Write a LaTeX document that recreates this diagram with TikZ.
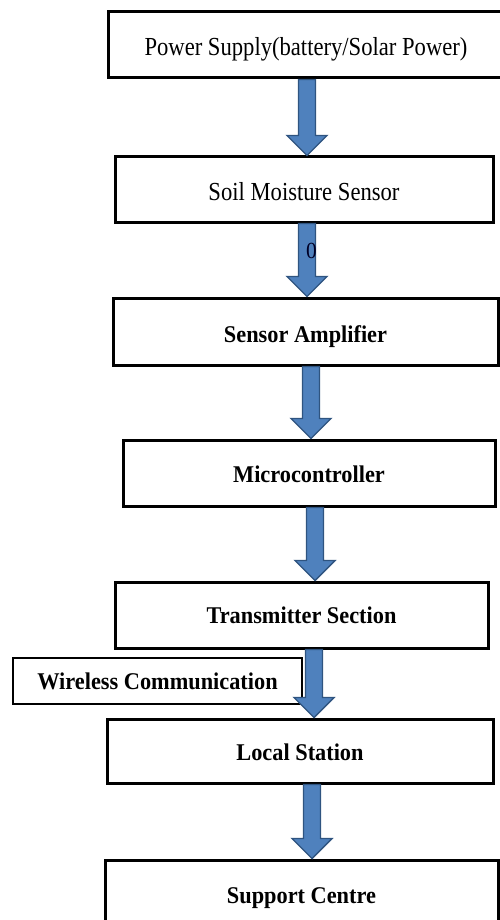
\documentclass[tikz,border=0pt]{standalone}
\usepackage{fontspec}
\setmainfont[FakeStretch=0.93]{Liberation Serif}
\newfontfamily\plainserif[FakeStretch=0.87]{Liberation Serif}
\usetikzlibrary{calc}
\definecolor{arrowfill}{HTML}{4F81BD}
\definecolor{arrowedge}{HTML}{2F5480}
\tikzset{
  stagebox/.style={draw=black, line width=3pt, fill=white, inner sep=0pt,
    text depth=5pt, text height=27pt,
    font=\fontsize{24}{28}\selectfont\bfseries},
  plainbox/.style={stagebox, font=\fontsize{26}{30}\plainserif},
  notebox/.style={draw=black, line width=1.3pt, fill=white, inner sep=0pt,
    font=\fontsize{24}{28}\selectfont\bfseries},
  flowarrow/.style={fill=arrowfill, draw=arrowedge, line width=1.4pt, line join=miter}
}
% block arrow at horizontal position #3 from the bottom of node #1 to the top of node #2
\newcommand\blockarrow[3]{%
  \path[flowarrow] let \p1=(#1.south), \p2=(#2.north) in
    (#3pt-8.5pt,\y1) -- (#3pt+8.5pt,\y1) -- (#3pt+8.5pt,\y2+20pt)
    -- (#3pt+20pt,\y2+20pt) -- (#3pt,\y2) -- (#3pt-20pt,\y2+20pt)
    -- (#3pt-8.5pt,\y2+20pt) -- cycle;}
\begin{document}
\begin{tikzpicture}[x=1pt, y=-1pt]
  \useasboundingbox (0,0) rectangle (500,920);
  \begin{scope}
    \clip (0,0) rectangle (500,920);
    \node[plainbox, minimum width=396pt, minimum height=66pt] (power) at (306,45)
      {Power Supply(battery/Solar Power)};
    \node[plainbox, minimum width=378pt, minimum height=65pt] (soil) at (304,189.5)
      {Soil Moisture Sensor};
    \node[stagebox, minimum width=385pt, minimum height=67pt] (amp) at (305.5,331.5)
      {Sensor Amplifier};
    \node[stagebox, text height=23pt, minimum width=372pt, minimum height=66pt] (mcu) at (309,473)
      {Microcontroller};
    \node[stagebox, text height=22pt, minimum width=373pt, minimum height=66pt] (tx) at (301.5,615)
      {Transmitter Section};
    \node[notebox, minimum width=289pt, minimum height=46pt] (wireless) at (157.5,681)
      {Wireless Communication};
    \node[stagebox, text height=23pt, minimum width=386pt, minimum height=64pt] (local) at (300,751)
      {Local Station};
    \node[stagebox, minimum width=393pt, minimum height=64pt] (support) at (301.5,892)
      {Support Centre};

    \blockarrow{power}{soil}{307}
    \blockarrow{soil}{amp}{307}
    \blockarrow{amp}{mcu}{311}
    \blockarrow{mcu}{tx}{315}
    \blockarrow{tx}{local}{314}
    \blockarrow{local}{support}{312}

    \node[font=\fontsize{23}{26}\selectfont, text=black!85!blue, inner sep=0pt]
      (zero) at (311.5,251) {0};
  \end{scope}
\end{tikzpicture}
\end{document}
